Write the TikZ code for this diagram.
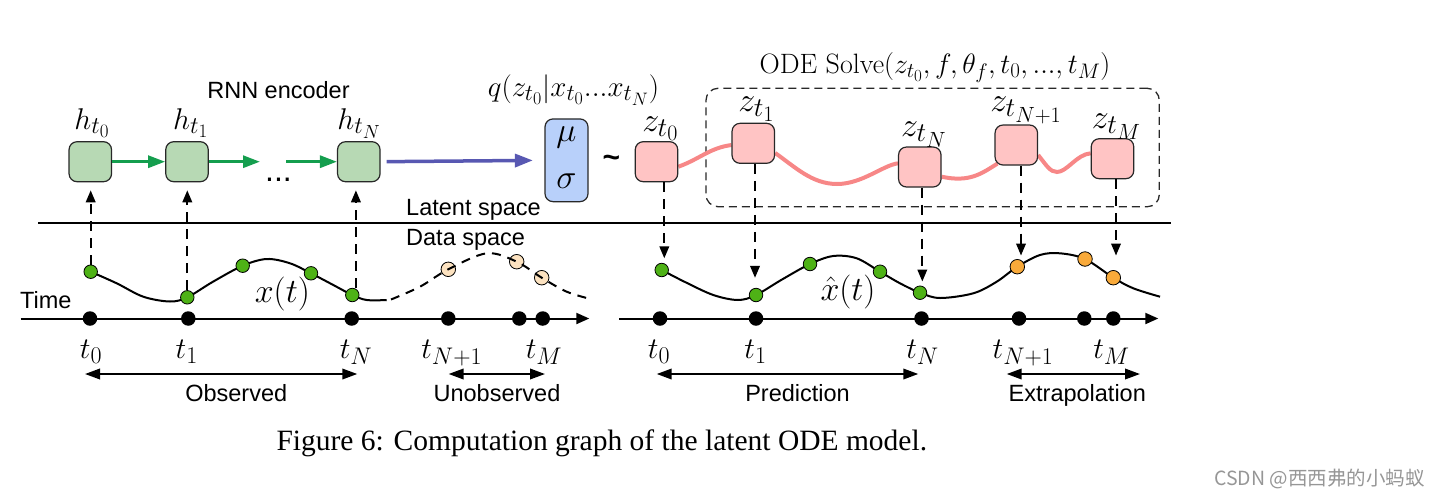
\RequirePackage{fix-cm}
\documentclass[tikz,border=0pt]{standalone}
\usepackage{fontspec}
\newfontfamily\helv{Liberation Sans}
\newfontfamily\tms{Liberation Serif}
\newfontfamily\cjk{Noto Sans CJK SC}
\usetikzlibrary{arrows.meta,calc,backgrounds}
\DeclareMathSizes{28}{28}{21}{17}
\DeclareMathSizes{29}{29}{23}{18}
\DeclareMathSizes{30}{30}{24}{19}
\DeclareMathSizes{34}{34}{27}{22}
\newcommand\fsz[1]{\fontsize{#1}{#1}\selectfont}
\definecolor{gbox}{RGB}{183,217,180}
\definecolor{garrow}{RGB}{20,158,78}
\definecolor{parrow}{RGB}{88,88,178}
\definecolor{bbox}{RGB}{184,208,250}
\definecolor{pbox}{RGB}{255,196,196}
\definecolor{pinkc}{RGB}{247,135,135}
\definecolor{gdot}{RGB}{78,178,22}
\definecolor{peach}{RGB}{252,226,192}
\definecolor{odot}{RGB}{249,170,58}
\definecolor{edge}{RGB}{40,40,40}
\definecolor{wm}{RGB}{150,150,150}
\begin{document}
\begin{tikzpicture}[x=1pt,y=-1pt,
  rbox/.style={draw=edge, line width=1.2pt, rounded corners=8pt, minimum width=42.5pt, minimum height=40pt, inner sep=0pt},
  dotbase/.style={circle, draw=black, line width=0.8pt, inner sep=0pt, minimum size=13.5pt},
  gdt/.style={dotbase, fill=gdot},
  pdt/.style={dotbase, fill=peach, minimum size=14.5pt},
  odt/.style={dotbase, fill=odot, minimum size=14.5pt},
  adt/.style={circle, fill=black, inner sep=0pt, minimum size=14.5pt},
  lab/.style={inner sep=0pt, anchor=base},
  sans/.style={inner sep=0pt, anchor=base, font=\helv\fsz{23.5}},
  vdash/.style={line width=2pt, dash pattern=on 10pt off 7pt, -{Triangle[length=12pt,width=9.5pt]}},
  garr/.style={garrow, line width=3pt, -{Triangle[length=17pt,width=12pt]}},
  parr/.style={parrow, line width=3.5pt, -{Triangle[length=18pt,width=13pt]}},
  dblar/.style={line width=2pt, {Triangle[length=15pt,width=10.5pt]}-{Triangle[length=15pt,width=10.5pt]}},
  axisar/.style={line width=2pt, -{Triangle[length=13pt,width=11pt]}},
  curve/.style={line width=2pt},
  dcurve/.style={line width=2pt, dash pattern=on 9pt off 7pt},
  pinkline/.style={pinkc, line width=4pt}]
\useasboundingbox (0,0) rectangle (1442,499);

% encoder boxes
\node[rbox, fill=gbox] (h0) at (90.3,161.7) {};
\node[rbox, fill=gbox] (h1) at (187,161.7) {};
\node[rbox, fill=gbox] (hN) at (358.8,161.7) {};
\node[rbox, fill=bbox, minimum height=82.7pt, minimum width=43pt] (ms) at (566.5,160.3) {};
\node[rbox, fill=pbox] (z0) at (656.5,161.7) {};
\node[rbox, fill=pbox] (z1) at (753.3,143.3) {};
\node[rbox, fill=pbox] (zN) at (919.8,167) {};
\node[rbox, fill=pbox] (zN1) at (1016.3,145) {};
\node[rbox, fill=pbox] (zM) at (1112.5,158.7) {};

% labels
\node[sans] (rnn) at (278.5,98) {RNN encoder};
\node[lab, font=\fsz{30}] (lh0) at (92,129) {$h_{t_0}$};
\node[lab, font=\fsz{30}] (lh1) at (190.7,129.3) {$h_{t_1}$};
\node[lab, font=\fsz{30}] (lhN) at (359,129) {$h_{t_N}$};
\node[lab, font=\helv\fsz{32}] (dots) at (278.5,181.7) {...};
\node[lab, font=\fsz{29}] (lq) at (573.5,96.5) {$q(z_{t_0}|x_{t_0}...x_{t_N})$};
\node[lab, font=\fsz{34}] (mu) at (566.5,141) {$\mu$};
\node[lab, font=\fsz{34}] (sg) at (566.5,188) {$\sigma$};
\node[inner sep=0pt, font=\helv\bfseries\fsz{30}] (tl) at (611.5,161.7) {\textasciitilde};
\node[lab, font=\fsz{34}] (lz0) at (660.3,131) {$z_{t_0}$};
\node[lab, font=\fsz{34}] (lz1) at (756.5,111.7) {$z_{t_1}$};
\node[lab, font=\fsz{34}] (lzN) at (924,136.7) {$z_{t_N}$};
\node[lab, font=\fsz{34}] (lzN1) at (1026,111.7) {$z_{t_{N+1}}$};
\node[lab, font=\fsz{34}] (lzM) at (1116.5,128.3) {$z_{t_M}$};
\node[lab, font=\fsz{28}] (lode) at (935,73.3) {ODE Solve$(z_{t_0}, f, \theta_f, t_0, ..., t_M)$};
\node[sans, anchor=base west] (lat) at (406,215) {Latent space};
\node[sans, anchor=base west] (dat) at (406,245) {Data space};
\node[sans, anchor=base west] (time) at (20,308.3) {Time};

% separator
\coordinate (sepL) at (38.3,222.7);
\coordinate (sepR) at (1170.7,222.7);
\draw[line width=2pt] (sepL) -- (sepR);

% data points left
\node[gdt] (g1) at (90.7,271.7) {};
\node[gdt] (g2) at (187.3,297.3) {};
\node[gdt] (g3) at (242.7,265.7) {};
\node[gdt] (g4) at (311,273.3) {};
\node[gdt] (g5) at (352.3,295) {};
\node[pdt] (p1) at (448.3,269.3) {};
\node[pdt] (p2) at (516.7,261.7) {};
\node[pdt] (p3) at (541.7,277.7) {};
% data points right
\node[gdt] (r1) at (661.7,270) {};
\node[gdt] (r2) at (756,295) {};
\node[gdt] (r3) at (810,264) {};
\node[gdt] (r4) at (880,271.7) {};
\node[gdt] (r5) at (920,292.7) {};
\node[odt] (o1) at (1017.3,266.7) {};
\node[odt] (o2) at (1085,259) {};
\node[odt] (o3) at (1113.3,277.7) {};

% axis dots
\node[adt] (ta0) at (90,318.5) {};
\node[adt] (ta1) at (188.3,318.5) {};
\node[adt] (ta2) at (351.7,318.5) {};
\node[adt] (ta3) at (448.3,318.5) {};
\node[adt] (ta4) at (519.3,318.5) {};
\node[adt] (ta5) at (542.7,318.5) {};
\node[adt] (tb0) at (660,318.5) {};
\node[adt] (tb1) at (756,318.5) {};
\node[adt] (tb2) at (921.5,318.5) {};
\node[adt] (tb3) at (1019,318.5) {};
\node[adt] (tb4) at (1084.3,318.5) {};
\node[adt] (tb5) at (1113.3,318.5) {};

% axis labels
\node[lab, font=\fsz{30}] (la0) at (91,358) {$t_0$};
\node[lab, font=\fsz{30}] (la1) at (186.7,358) {$t_1$};
\node[lab, font=\fsz{30}] (la2) at (356,358) {$t_N$};
\node[lab, font=\fsz{30}] (la3) at (451.7,358) {$t_{N+1}$};
\node[lab, font=\fsz{30}] (la4) at (544,358) {$t_M$};
\node[lab, font=\fsz{30}] (lb0) at (659,358) {$t_0$};
\node[lab, font=\fsz{30}] (lb1) at (755.5,358) {$t_1$};
\node[lab, font=\fsz{30}] (lb2) at (922.5,358) {$t_N$};
\node[lab, font=\fsz{30}] (lb3) at (1023,358) {$t_{N+1}$};
\node[lab, font=\fsz{30}] (lb4) at (1111.5,358) {$t_M$};

\node[lab, font=\fsz{34}] (lx) at (282.3,302.7) {$x(t)$};
\node[lab, font=\fsz{34}] (lxh) at (848,300) {$\hat{x}(t)$};

\node[sans] (obs) at (236.2,401.7) {Observed};
\node[sans] (unobs) at (497,401.7) {Unobserved};
\node[sans] (pred) at (797.5,401.7) {Prediction};
\node[sans] (extra) at (1077.3,401.7) {Extrapolation};

\node[lab, font=\tms\fsz{29.5}] (cap) at (601.8,450) {Figure 6: Computation graph of the latent ODE model.};
\node[inner sep=0pt, anchor=base east, font=\cjk\fsz{19.5}, text=wm] (wmk) at (1425,485) {CSDN @西西弗的小蚂蚁};

% background drawings
\begin{scope}[on background layer]
  \node[draw=edge, line width=1.3pt, dash pattern=on 8pt off 5pt, rounded corners=12pt,
        minimum width=453.3pt, minimum height=118.4pt, inner sep=0pt] (ode) at (932.65,147.5) {};
  \coordinate (m1) at (837,184);
  \coordinate (m2) at (1057,172);
  \draw[pinkline] ([yshift=-5pt]z0.east) .. controls +(22,-8) and +(-22,3) .. ([yshift=-1.7pt]z1.west);
  \draw[pinkline] ([yshift=-9.7pt]z1.east) .. controls +(20,14) and +(-25,0) .. (m1)
                  .. controls +(25,0) and +(-15,2) .. ([yshift=3.7pt]zN.west);
  \draw[pinkline] ([yshift=-9.7pt]zN.east) .. controls +(28,6) and +(-16,10) .. ([xshift=3pt,yshift=2pt]zN1.south west);
  \draw[pinkline] ([yshift=-10pt]zN1.east) .. controls +(8,10) and +(-7,0) .. (m2)
                  .. controls +(10,0) and +(-14,1) .. ([yshift=5.4pt]zM.west);
  % axes
  \coordinate (axL1) at (20.7,318.5);
  \coordinate (axR1) at (589.3,318.5);
  \coordinate (axL2) at (619.3,318.5);
  \coordinate (axR2) at (1158.3,318.5);
  \draw[axisar] (axL1) -- (axR1);
  \draw[axisar] (axL2) -- (axR2);
  % solid curves
  \draw[curve] plot[smooth, tension=0.55] coordinates {(g1) (116.7,283.3) (143.3,296.7) (170,301.5) (g2) (213,281.7) (g3) (266.7,259) (290,263.3) (g4) (333.3,285) (g5) (366.7,300) (386.7,300)};
  \draw[curve] plot[smooth, tension=0.55] coordinates {(r1) (685,282) (713.3,295) (738,300) (r2) (782,279.5) (r3) (833.3,256) (856.7,258.3) (r4) (900,283.3) (r5) (940,298) (973.3,293.3) (996.7,281.7) (o1) (1040,255) (1060,253.3) (o2) (o3) (1133.3,288.3) (1160,296.7)};
\end{scope}
% dashed (unobserved) curve over the peach dots
\draw[dcurve] plot[smooth, tension=0.55] coordinates {(391,299.5) (420,286.7) (p1) (486.7,253.3) (p2) (p3) (566.7,291.7) (591.7,299.3)};

% encoder arrows
\coordinate (e1) at (260,161.7);
\coordinate (e2) at (286,161.7);
\draw[garr] (h0.east) -- (h1.west);
\draw[garr] (h1.east) -- (e1);
\draw[garr] (e2) -- (hN.west);
\draw[parr, shorten <=6pt, shorten >=11.5pt] (hN.east) -- (ms.west);

% data -> latent dashed arrows
\draw[vdash, shorten >=8pt] (g1.north) -- (g1.north |- h0.south);
\draw[vdash, shorten >=8pt] (g2.north) -- (g2.north |- h1.south);
\draw[vdash, shorten >=8pt] ([xshift=3.6pt]g5.north) -- ([xshift=3.6pt]g5.north |- hN.south);

% latent -> data dashed arrows
\draw[vdash, shorten >=4.5pt] ([xshift=2.6pt]r1.north |- z0.south) -- ([xshift=2.6pt]r1.north);
\draw[vdash, shorten >=10pt] ([xshift=-1pt]r2.north |- z1.south) -- ([xshift=-1pt]r2.north);
\draw[vdash, shorten >=4pt] ([xshift=2.3pt]r5.north |- zN.south) -- ([xshift=2.3pt]r5.north);
\draw[vdash, shorten >=3.5pt] ([xshift=3.7pt]o1.north |- zN1.south) -- ([xshift=3.7pt]o1.north);
\draw[vdash, shorten >=14.5pt] ([xshift=2.7pt]o3.north |- zM.south) -- ([xshift=2.7pt]o3.north);

% range arrows
\coordinate (obL) at (85,374);
\coordinate (obR) at (357.3,374);
\coordinate (unL) at (448.6,374);
\coordinate (unR) at (545,374);
\coordinate (prL) at (656.7,374);
\coordinate (prR) at (918.3,374);
\coordinate (exL) at (1006.7,374);
\coordinate (exR) at (1140,374);
\draw[dblar] (obL) -- (obR);
\draw[dblar] (unL) -- (unR);
\draw[dblar] (prL) -- (prR);
\draw[dblar] (exL) -- (exR);
\end{tikzpicture}
\end{document}
